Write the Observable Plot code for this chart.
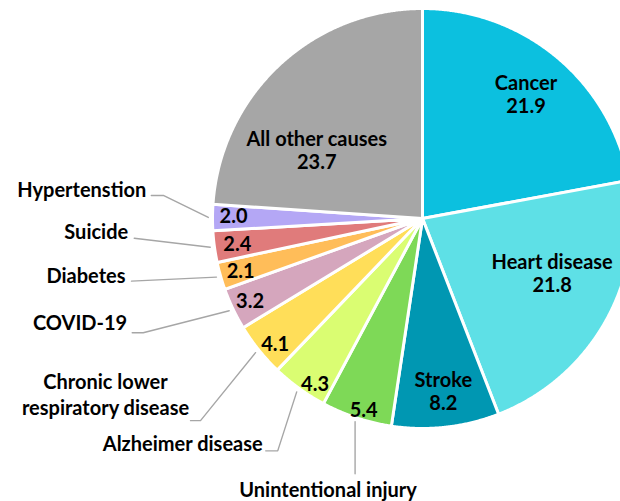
<!DOCTYPE html>
<html><head><meta charset="utf-8">
<script src="https://cdn.jsdelivr.net/npm/d3@7"></script>
<script src="https://cdn.jsdelivr.net/npm/@observablehq/plot@0.6"></script>
<style>body{margin:0;background:#fff;overflow:hidden} #chart svg{display:block}</style>
</head><body><div id="chart"></div>
<script>
// ---- data ----
const causes = ["Cancer","Heart disease","Stroke","Unintentional injury","Alzheimer disease","Chronic lower respiratory disease","COVID-19","Diabetes","Suicide","Hypertenstion","All other causes"];
const rates  = [21.9, 21.8, 8.2, 5.4, 4.3, 4.1, 3.2, 2.1, 2.4, 2.0, 23.7];
const colors = ["#0CC0DF","#5EE0E6","#0097B2","#7ED957","#DAFD72","#FFDE59","#D5A6BD","#FFBD59","#E07B7B","#B4A7F5","#A6A6A6"];
const outsideNames = {
  "Unintentional injury": "Unintentional injury",
  "Alzheimer disease": "Alzheimer disease",
  "Chronic lower respiratory disease": "Chronic lower\nrespiratory disease",
  "COVID-19": "COVID-19",
  "Diabetes": "Diabetes",
  "Suicide": "Suicide",
  "Hypertenstion": "Hypertenstion"
};

// ---- layout (pixels) ----
const W = 620, H = 501, CX = 422, CY = 218, R = 210;
const FS = 20;
// inside label placement: radius factor, angle shift (deg)
const insidePlace = {
  "Cancer": [0.77, 0], "Heart disease": [0.67, -6.3], "Stroke": [0.83, -0.5], "All other causes": [0.6, -14],
  "Unintentional injury": [0.95, -1.2], "Alzheimer disease": [0.94, -3], "Chronic lower respiratory disease": [0.92, -1.5],
  "COVID-19": [0.91, 0], "Diabetes": [0.9, 0], "Suicide": [0.89, 0], "Hypertenstion": [0.9, 0.6]
};
// outside labels: text offset and leader path offsets from slice edge anchor (px)
const outsidePlace = {
  "Hypertenstion": {t: [-62, -27], path: [[-57, -22], [-45, -22]], anchor: "end"},
  "Suicide": {t: [-82, -15], path: [[-76, -9]], anchor: "end"},
  "Diabetes": {t: [-91, -1], path: [[-85, 4]], anchor: "end"},
  "COVID-19": {t: [-102, 13], path: [[-97, 22], [-86, 22]], anchor: "end"},
  "Chronic lower respiratory disease": {t: [-150, 41], path: [[-65, 68], [-55, 68]], anchor: "middle"},
  "Alzheimer disease": {t: [-34, 53], path: [[-31, 59], [-19, 59]], anchor: "end"},
  "Unintentional injury": {t: [-27, 67], path: [[0, 52]], anchor: "middle"}
};

const data = causes.map((name, i) => ({name, rate: rates[i]}));
const arcs = d3.pie().sort(null).value(d => d.rate)(data);

// slice outlines in unit-radius coordinates (y up)
const slicePts = [];
for (const a of arcs) {
  const n = Math.max(2, Math.ceil((a.endAngle - a.startAngle) / 0.005));
  slicePts.push({name: a.data.name, x: 0, y: 0});
  for (let k = 0; k <= n; k++) {
    const t = a.startAngle + (a.endAngle - a.startAngle) * k / n;
    slicePts.push({name: a.data.name, x: Math.sin(t), y: Math.cos(t)});
  }
  slicePts.push({name: a.data.name, x: 0, y: 0});
}

// inside labels
const inside = arcs.map(a => {
  const [rf, dd] = insidePlace[a.data.name];
  const t = (a.startAngle + a.endAngle) / 2 + dd * Math.PI / 180;
  const txt = outsideNames[a.data.name] ? a.data.rate.toFixed(1) : a.data.name + "\n" + a.data.rate.toFixed(1);
  return {name: a.data.name, x: rf * Math.sin(t), y: rf * Math.cos(t), text: txt};
});

// outside labels and leaders
const outside = [], leaders = [];
for (const a of arcs) {
  const p = outsidePlace[a.data.name];
  if (!p) continue;
  const t = (a.startAngle + a.endAngle) / 2;
  const ax = 1.02 * Math.sin(t), ay = 1.02 * Math.cos(t);
  outside.push({name: a.data.name, anchor: p.anchor, x: ax + p.t[0] / R, y: ay - p.t[1] / R, text: outsideNames[a.data.name]});
  const path = p.path.map(([dx, dy]) => [ax + dx / R, ay - dy / R]);
  path.push([ax, ay]);
  path.forEach(([x, y]) => leaders.push({name: a.data.name, x, y}));
}

const chart = Plot.plot({
  width: W, height: H,
  margin: 0,
  style: {fontFamily: "Lato, sans-serif", background: "#fff"},
  x: {domain: [-CX / R, (W - CX) / R], axis: null},
  y: {domain: [-(H - CY) / R, CY / R], axis: null},
  color: {domain: causes, range: colors},
  marks: [
    Plot.line(slicePts, {x: "x", y: "y", z: "name", fill: "name", stroke: "white", strokeWidth: 3, strokeLinejoin: "round"}),
    Plot.line(leaders, {x: "x", y: "y", z: "name", stroke: "#A6A6A6", strokeWidth: 1.4}),
    Plot.text(inside, {x: "x", y: "y", text: "text", fontSize: FS, fontWeight: "bold", fill: "black", lineHeight: 1.15}),
    Plot.text(outside.filter(d => d.anchor === "end"), {x: "x", y: "y", text: "text", textAnchor: "end", fontSize: FS, fontWeight: "bold", fill: "black"}),
    Plot.text(outside.filter(d => d.anchor === "middle"), {x: "x", y: "y", text: "text", textAnchor: "middle", fontSize: FS, fontWeight: "bold", fill: "black", lineHeight: 1.3})
  ]
});
document.getElementById("chart").append(chart);
</script>
</body></html>
